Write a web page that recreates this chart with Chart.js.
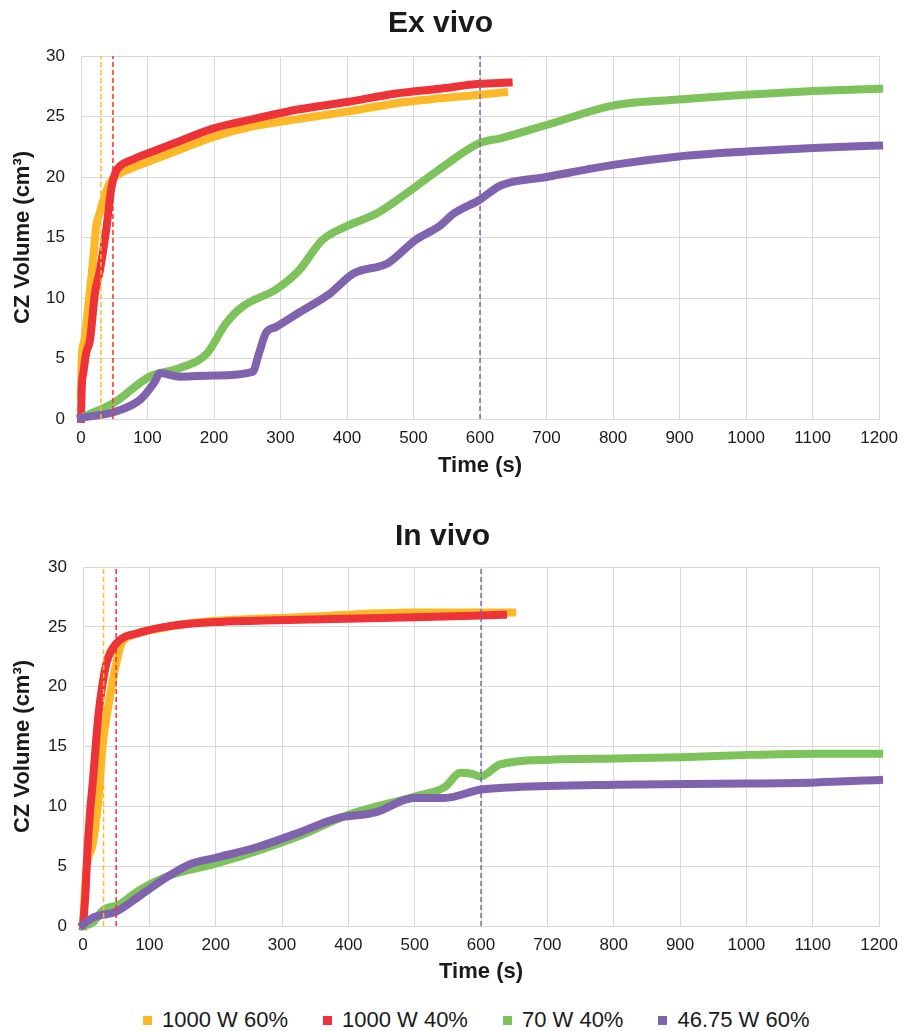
<!DOCTYPE html>
<html>
<head>
<meta charset="utf-8">
<script src="https://cdn.jsdelivr.net/npm/chart.js@4.4.1/dist/chart.umd.min.js"></script>
<style>
  body { margin: 0; background: #fff; width: 907px; height: 1031px; position: relative; overflow: hidden; }
  .box { position: absolute; left: 0; width: 907px; height: 490px; }
  #legend { position: absolute; left: 143px; top: 1007px; display: flex; gap: 35px;
            font-family: "Liberation Sans", Arial, sans-serif; font-size: 22px; color: #1a1a1a; }
  #legend .item { display: flex; align-items: center; white-space: nowrap; }
  #legend .sw { width: 9px; height: 9px; margin-right: 10px; }
</style>
</head>
<body>
<div class="box" style="top:0"><canvas id="exChart" width="907" height="490"></canvas></div>
<div class="box" style="top:500px"><canvas id="inChart" width="907" height="490"></canvas></div>
<div id="legend"></div>
<script>
// series names and colours
const seriesNames = ["1000 W 60%", "1000 W 40%", "70 W 40%", "46.75 W 60%"];
const seriesColors = ["#FDB827", "#EE3338", "#7DC25B", "#8063AE"];

// Ex vivo
const exOrangeT = [0, 1, 5, 13, 18, 23, 28, 33, 43, 55, 70, 103, 150, 198, 260, 328, 400, 474, 540, 599, 636];
const exOrangeV = [2, 4.9, 6.5, 10.4, 13, 16.0, 17.0, 18.0, 19.5, 20.2, 20.6, 21.3, 22.3, 23.3, 24.2, 24.8, 25.4, 26.1, 26.5, 26.8, 27.0];
const exRedT = [0, 1, 4, 8, 13.5, 21, 28.5, 38.5, 46, 52, 58.5, 80, 103, 150, 198, 260, 328, 400, 474, 540, 599, 643];
const exRedV = [0, 2.4, 4, 5.5, 6.5, 10.4, 12.3, 15.9, 19.2, 20.4, 20.9, 21.5, 22.0, 23.0, 24.0, 24.8, 25.6, 26.2, 26.9, 27.3, 27.7, 27.8];
const exGreenT = [0, 51, 103, 148, 189, 218, 243, 293, 328, 363, 398, 445, 503, 538, 599, 631, 700, 800, 899, 1000, 1101, 1200];
const exGreenV = [0.1, 1.4, 3.5, 4.2, 5.4, 7.9, 9.3, 10.7, 12.3, 14.8, 15.9, 17.0, 19.2, 20.6, 22.8, 23.2, 24.3, 25.9, 26.4, 26.8, 27.1, 27.3];
const exPurpleT = [0, 51, 89, 110, 119, 148, 200, 258, 268, 278, 293, 328, 375, 409, 462, 503, 538, 561, 599, 631, 700, 800, 899, 1000, 1101, 1200];
const exPurpleV = [0.1, 0.6, 1.6, 3.0, 3.8, 3.5, 3.6, 3.9, 5.5, 7.1, 7.6, 8.8, 10.4, 12.0, 12.9, 14.8, 15.9, 17.0, 18.1, 19.3, 20.0, 21.0, 21.7, 22.1, 22.4, 22.6];
const exMarkers = [30, 48, 600];

// In vivo
const inOrangeT = [0, 5, 15, 23, 30, 38, 48, 58, 70, 100, 150, 200, 325, 499, 647];
const inOrangeV = [0, 4.7, 6.9, 10.5, 15.3, 18.3, 21.4, 23.6, 24.2, 24.7, 25.2, 25.5, 25.8, 26.2, 26.2];
const inRedT = [0, 4, 6, 10, 15, 23, 28, 35.5, 50, 85, 135, 200, 325, 499, 633];
const inRedV = [0, 3.0, 5.5, 9.1, 12.2, 17.5, 19.7, 22.0, 23.6, 24.5, 25.1, 25.4, 25.6, 25.8, 26.0];
const inGreenT = [0, 15, 30, 55, 85, 135, 200, 325, 400, 499, 545, 569, 587, 599, 629, 704, 803, 904, 1004, 1105, 1200];
const inGreenV = [0, 0.3, 1.3, 1.8, 3.0, 4.3, 5.2, 7.5, 9.3, 10.8, 11.6, 12.8, 12.7, 12.5, 13.5, 13.9, 14.0, 14.1, 14.3, 14.4, 14.4];
const inPurpleT = [0, 15, 50, 85, 127, 163, 200, 263, 325, 383, 441, 499, 545, 600, 650, 803, 1004, 1105, 1200];
const inPurpleV = [0.1, 0.7, 1.2, 2.5, 4.1, 5.2, 5.7, 6.6, 7.8, 9.0, 9.5, 10.7, 10.7, 11.4, 11.6, 11.8, 11.9, 12.0, 12.2];
const inMarkers = [31, 50, 600];

const yTicks = [0, 5, 10, 15, 20, 25, 30];
const xTicks = [0, 100, 200, 300, 400, 500, 600, 700, 800, 900, 1000, 1100, 1200];

const FONT = "'Liberation Sans', Arial, sans-serif";
const TEXT = "#1a1a1a";
const GRID = "#d9d9d9";

function pts(ts, vs) {
    return ts.map((t, i) => ({x: t, y: vs[i]}));
}

function makeChart(id, title, series, markers, opts) {
    const datasets = series.map((s, i) => ({
        label: seriesNames[i],
        data: pts(s[0], s[1]),
        borderColor: seriesColors[i],
        backgroundColor: seriesColors[i],
        borderWidth: 8,
        borderCapStyle: "square",
        borderJoinStyle: "round",
        cubicInterpolationMode: "monotone",
        pointRadius: 0,
        clip: false,
        order: 5 - i,
    }));
    // dashed marker lines (orange, red, purple)
    const markerColors = [seriesColors[0], seriesColors[1], seriesColors[3]];
    markers.forEach((m, i) => {
        datasets.push({
            label: "marker" + i,
            data: [{x: m, y: 0}, {x: m, y: 30}],
            borderColor: markerColors[i],
            borderWidth: 1.5,
            borderDash: [5, 3],
            pointRadius: 0,
            order: 0,
        });
    });

    return new Chart(document.getElementById(id), {
        type: "line",
        data: { datasets: datasets },
        options: {
            responsive: false,
            animation: false,
            devicePixelRatio: 1,
            layout: { padding: { left: 0, right: opts.right, top: 0, bottom: 0 } },
            plugins: {
                legend: { display: false },
                tooltip: { enabled: false },
                title: {
                    display: true,
                    text: title,
                    color: TEXT,
                    font: { family: FONT, size: 30, weight: "bold" },
                    padding: { top: opts.titleTop, bottom: opts.titleBottom },
                },
            },
            scales: {
                x: {
                    type: "linear",
                    min: 0,
                    max: 1200,
                    afterFit: (scale) => { scale.height = opts.xHeight; },
                    afterBuildTicks: (scale) => { scale.ticks = xTicks.map(v => ({value: v})); },
                    grid: { color: GRID, lineWidth: 1, drawTicks: false },
                    border: { color: GRID, width: 1 },
                    ticks: { color: TEXT, font: { family: FONT, size: 17 }, padding: 9, maxRotation: 0,
                             callback: (v) => String(v) },
                    title: {
                        display: true,
                        text: "Time (s)",
                        color: TEXT,
                        font: { family: FONT, size: 22, weight: "bold" },
                        padding: { top: opts.xTitlePad, bottom: opts.xTitlePad },
                    },
                },
                y: {
                    min: 0,
                    max: 30,
                    afterFit: (scale) => { scale.width = opts.left; },
                    afterBuildTicks: (scale) => { scale.ticks = yTicks.map(v => ({value: v})); },
                    grid: { color: GRID, lineWidth: 1, drawTicks: false },
                    border: { color: GRID, width: 1 },
                    ticks: { color: TEXT, font: { family: FONT, size: 17 }, padding: 16,
                             callback: (v) => String(v) },
                    title: {
                        display: true,
                        text: "CZ Volume (cm³)",
                        color: TEXT,
                        font: { family: FONT, size: 22, weight: "bold" },
                        padding: { top: 10, bottom: 10 },
                    },
                },
            },
        },
    });
}

makeChart("exChart", "Ex vivo",
    [[exOrangeT, exOrangeV], [exRedT, exRedV], [exGreenT, exGreenV], [exPurpleT, exPurpleV]],
    exMarkers,
    { left: 81, right: 26, titleTop: 6, titleBottom: 14, xHeight: 71, xTitlePad: 11 });

makeChart("inChart", "In vivo",
    [[inOrangeT, inOrangeV], [inRedT, inRedV], [inGreenT, inGreenV], [inPurpleT, inPurpleV]],
    inMarkers,
    { left: 83, right: 22, titleTop: 19, titleBottom: 12, xHeight: 64, xTitlePad: 5 });

// Legend
const legend = document.getElementById("legend");
seriesNames.forEach((name, i) => {
    const item = document.createElement("div");
    item.className = "item";
    const sw = document.createElement("span");
    sw.className = "sw";
    sw.style.background = seriesColors[i];
    item.appendChild(sw);
    item.appendChild(document.createTextNode(name));
    legend.appendChild(item);
});
</script>
</body>
</html>
